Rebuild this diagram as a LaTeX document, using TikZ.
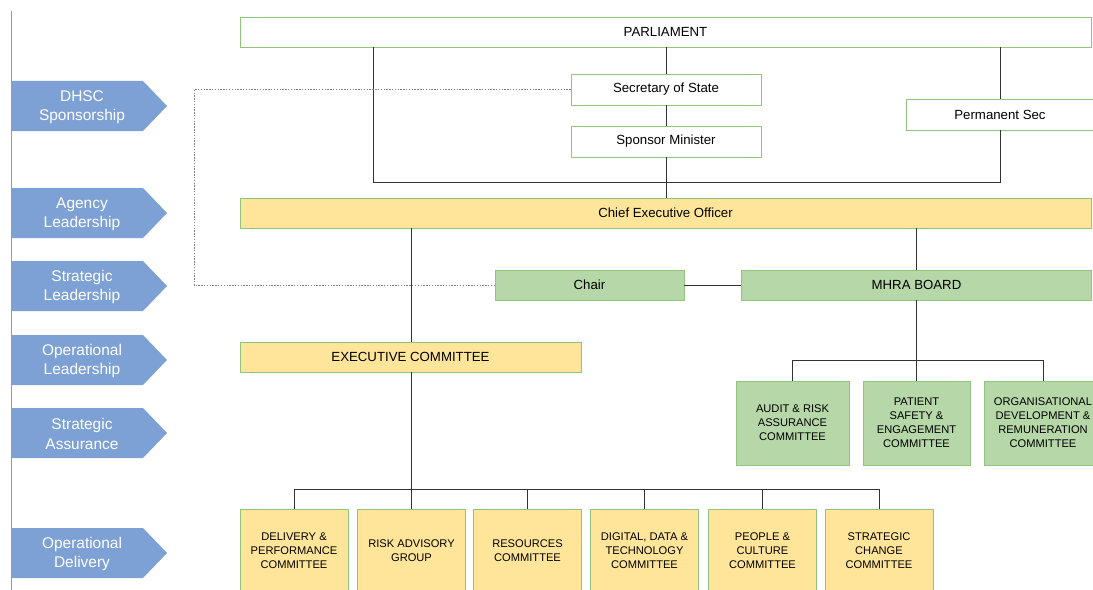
\documentclass[tikz,border=0pt]{standalone}
\usepackage{fontspec}
\setmainfont{Liberation Sans}
\usetikzlibrary{positioning}
\usetikzlibrary{calc}

\definecolor{boxgreen}{HTML}{93C47D}
\definecolor{fillgreen}{HTML}{B6D7A8}
\definecolor{fillyellow}{HTML}{FFE599}
\definecolor{chevblue}{HTML}{7EA1D5}

\begin{document}
\begin{tikzpicture}[x=0.03cm, y=-0.03cm,
    box/.style={align=center, rectangle, draw=boxgreen, line width=0.8pt, inner sep=0pt, font=\fontsize{11.3}{13.5}\selectfont},
    wide/.style={box, minimum width=851*0.03cm, minimum height=30*0.03cm},
    small/.style={box, fill=white, minimum width=190*0.03cm, minimum height=31*0.03cm},
    cttee/.style={box, fill=#1, font=\fontsize{9.5}{12}\selectfont, minimum width=108*0.03cm, minimum height=84*0.03cm},
    chev/.style={fill=chevblue, draw=none},
    lvl/.style={align=center, text=white, font=\fontsize{13.2}{16.5}\selectfont},
    link/.style={draw=black!80, line width=0.8pt}
]
    \useasboundingbox (0,0) rectangle (1093,590);
    \draw[black!40, line width=0.8pt] (11,11) -- (11,590);

    % level arrows
    \fill[chev] (11,81) -- (143,81) -- (167,106) -- (143,131) -- (11,131) -- cycle;
    \fill[chev] (11,188) -- (143,188) -- (167,213) -- (143,238) -- (11,238) -- cycle;
    \fill[chev] (11,261) -- (143,261) -- (167,286) -- (143,311) -- (11,311) -- cycle;
    \fill[chev] (11,335) -- (143,335) -- (167,360) -- (143,385) -- (11,385) -- cycle;
    \fill[chev] (11,408) -- (143,408) -- (167,433) -- (143,458) -- (11,458) -- cycle;
    \fill[chev] (11,528) -- (143,528) -- (167,553) -- (143,578) -- (11,578) -- cycle;
    \node[lvl] (L1) at (82,107) {DHSC\\Sponsorship};
    \node[lvl] (L2) at (82,214) {Agency\\Leadership};
    \node[lvl] (L3) at (82,287) {Strategic\\Leadership};
    \node[lvl] (L4) at (82,361) {Operational\\Leadership};
    \node[lvl] (L5) at (82,434) {Strategic\\Assurance};
    \node[lvl] (L6) at (82,554) {Operational\\Delivery};

    % government
    \node[wide, fill=white] (PARL) at (665.5,32) {PARLIAMENT};
    \node[small] (SOS) at (666,89.5) {Secretary of State};
    \node[small] (SM) at (666,141.5) {Sponsor Minister};
    \node[small, minimum width=188*0.03cm] (PS) at (1000,114.5) {Permanent Sec};

    % agency
    \node[wide, fill=fillyellow] (CEO) at (665.5,213) {Chief Executive Officer};
    \node[box, fill=fillgreen, minimum width=189*0.03cm, minimum height=30*0.03cm] (CH) at (589.5,285) {Chair};
    \node[box, fill=fillgreen, minimum width=350*0.03cm, minimum height=30*0.03cm] (MB) at (916.5,285) {MHRA BOARD};
    \node[box, fill=fillyellow, minimum width=341*0.03cm, minimum height=30*0.03cm] (EX) at (410.5,357) {EXECUTIVE COMMITTEE};

    % board committees
    \node[cttee=fillgreen, minimum width=113*0.03cm] (A1) at (792.5,423) {AUDIT \& RISK\\ASSURANCE\\COMMITTEE};
    \node[cttee=fillgreen, minimum width=107*0.03cm] (A2) at (916.5,423) {PATIENT\\SAFETY \&\\ENGAGEMENT\\COMMITTEE};
    \node[cttee=fillgreen, minimum width=118*0.03cm] (A3) at (1043,423) {ORGANISATIONAL\\DEVELOPMENT \&\\REMUNERATION\\COMMITTEE};

    % executive committees
    \node[cttee=fillyellow] (R1) at (294,551) {DELIVERY \&\\PERFORMANCE\\COMMITTEE};
    \node[cttee=fillyellow] (R2) at (411.5,551) {RISK ADVISORY\\GROUP};
    \node[cttee=fillyellow] (R3) at (527.5,551) {RESOURCES\\COMMITTEE};
    \node[cttee=fillyellow] (R4) at (644.5,551) {DIGITAL, DATA \&\\TECHNOLOGY\\COMMITTEE};
    \node[cttee=fillyellow] (R5) at (762.5,551) {PEOPLE \&\\CULTURE\\COMMITTEE};
    \node[cttee=fillyellow] (R6) at (879,551) {STRATEGIC\\CHANGE\\COMMITTEE};

    \coordinate (J1) at (373,182);
    \coordinate (J2) at (1000,182);
    \coordinate (D1) at (194,200);

    \draw[link] (PARL.south -| J1) -- (J1) -- (J2) -- (PS.south);
    \draw[link] (PARL.south -| PS) -- (PS.north);
    \draw[link] (PARL.south -| SOS) -- (SOS.north);
    \draw[link] (SOS.south) -- (SM.north);
    \draw[link] (SM.south) -- (SM.south |- CEO.north);
    \draw[gray, line width=0.8pt, dash pattern=on 1.2pt off 1.2pt] (SOS.west) -| (D1) |- (CH.west);
    \draw[link] (CH.east) -- (MB.west);
    \draw[link] (CEO.south -| MB) -- (MB.north);
    \draw[link] (CEO.south -| R2) -- (R2.south |- EX.north);
    \draw[link] (EX.south -| R2) -- (R2.north);

    \draw[link] (MB.south) -- (A2.north);
    \draw[link] (A1.north) -- ++(0,-20) -| (A3.north);

    \draw[link] (R1.north) -- ++(0,-19) -| (R6.north);
    \draw[link] (R3.north) -- ++(0,-19);
    \draw[link] (R4.north) -- ++(0,-19);
    \draw[link] (R5.north) -- ++(0,-19);

\end{tikzpicture}
\end{document}
